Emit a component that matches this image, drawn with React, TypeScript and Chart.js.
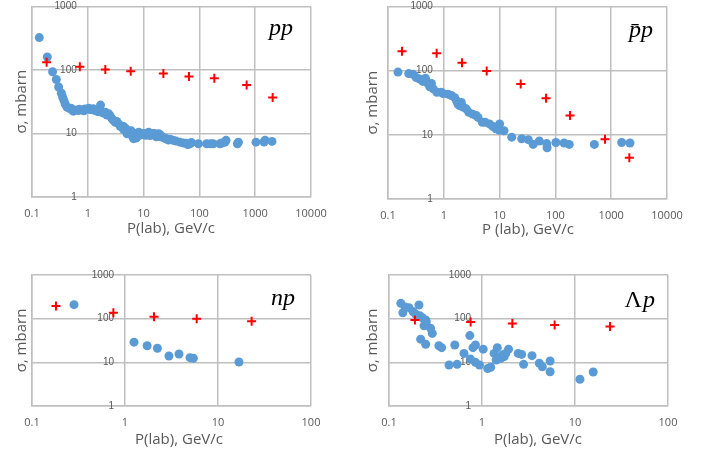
import React, { useEffect, useRef } from "react";
import { Chart, registerables } from "chart.js";

Chart.register(...registerables);

// ---------- data ----------
const xTicksWide = [0.1, 1, 10, 100, 1000, 10000];
const xTickLabelsWide = ["0.1", "1", "10", "100", "1000", "10000"];
const xTicksNarrow = [0.1, 1, 10, 100];
const xTickLabelsNarrow = ["0.1", "1", "10", "100"];
const yTicks = [1, 10, 100, 1000];
const yTickLabels = ["1", "10", "100", "1000"];

// pp
const ppDataP = [
  0.135, 0.188, 0.234, 0.273, 0.3, 0.336, 0.355, 0.374, 0.395, 0.423, 0.466, 0.5, 0.52, 0.55, 0.6, 0.68, 0.7,
  0.79, 0.85, 0.9, 1.04, 1.1, 1.19, 1.25, 1.37, 1.45, 1.57, 1.6, 1.69, 1.8, 1.9, 2.06, 2.2, 2.37, 2.5, 2.72,
  2.9, 3.12, 3.3, 3.58, 3.8, 4.1, 4.3, 4.4, 4.7, 5.05, 5.3, 5.8, 6.0, 6.2, 6.6, 7.1, 7.3, 7.6, 8.2, 8.8, 9.4,
  10, 10.8, 11.5, 12.3, 13, 14.1, 14.9, 15.5, 16.2, 17, 18.6, 19.7, 20, 21.3, 23, 24.5, 26, 28, 30, 34, 38, 45,
  52, 59, 62, 68, 72, 96, 135, 160, 177, 234, 250, 288, 300, 480, 500, 1033, 1440, 1500, 2000,
];
const ppDataSigma = [
  324, 160, 94, 71, 54, 43, 37, 33, 29, 26, 24.9, 25, 23.7, 22.5, 23.5, 23, 24, 23.7, 22.8, 24.3, 24.9, 23.8,
  23.7, 24.5, 23, 22.5, 22, 24, 28, 22, 21, 21.7, 19.5, 20.4, 19, 17, 16, 15, 15.5, 14.2, 13, 12.6, 13, 11.5,
  12.1, 9.9, 11, 10.5, 11, 9.2, 8.3, 9.9, 8.5, 8.8, 10.5, 9.5, 9.9, 10, 9.4, 9.6, 10.5, 9.3, 9.9, 9.9, 10, 9.2,
  8.9, 9.9, 9.0, 9.5, 8.8, 8.6, 8.3, 8.3, 7.9, 8.1, 7.8, 7.6, 7.3, 7.1, 7.05, 6.7, 6.9, 7.2, 6.9, 6.9, 6.9, 6.9,
  6.9, 7.1, 7.3, 7.8, 6.9, 7.3, 7.3, 7.35, 7.8, 7.5,
];
const ppCalcP = [0.183, 0.72, 2.06, 5.87, 22.6, 65, 185, 703, 2056];
const ppCalcSigma = [133, 113, 102, 96, 88, 79, 74, 58, 37];

// anti-p p
const pbarpDataP = [
  0.151, 0.235, 0.28, 0.32, 0.37, 0.42, 0.47, 0.52, 0.56, 0.6, 0.65, 0.75, 0.9, 0.97, 1.19, 1.37, 1.57, 1.69,
  1.8, 1.93, 2.06, 2.22, 2.52, 2.8, 3.3, 3.8, 4.1, 4.9, 5.5, 6.6, 7.6, 8.6, 9.9, 10, 12, 16.5, 24.9, 32.7, 40,
  51.5, 69.8, 71, 102, 143, 177, 499, 1540, 2170,
];
const pbarpDataSigma = [
  95, 90, 88, 78, 74, 68, 76, 63, 56, 63, 52, 46, 46, 44, 43, 41, 38, 34, 30, 28.5, 32, 27, 25.4, 22.4, 21, 20,
  18.7, 15.7, 15.7, 14.8, 13.5, 12.4, 11.8, 14.8, 11.6, 9.2, 8.7, 8.4, 7.1, 8.0, 7.3, 6.3, 7.6, 7.45, 7.1, 7.1,
  7.6, 7.45,
];
const pbarpCalcP = [0.178, 0.745, 2.12, 5.87, 23.9, 68, 183, 774, 2113];
const pbarpCalcSigma = [201, 186, 133, 99, 61.7, 37, 20, 8.5, 4.4];

// n p
const npDataP = [0.283, 1.25, 1.73, 2.23, 2.97, 3.81, 5.0, 5.43, 16.8];
const npDataSigma = [209, 29, 24, 21, 14, 15.5, 12.8, 12.4, 10.2];
const npCalcP = [0.181, 0.75, 2.05, 5.9, 23];
const npCalcSigma = [195, 137, 111, 100, 87];

// Lambda p
const lpDataP = [
  0.134, 0.141, 0.149, 0.164, 0.181, 0.194, 0.21, 0.214, 0.228, 0.248, 0.238, 0.252, 0.28, 0.292, 0.219, 0.248,
  0.344, 0.368, 0.442, 0.51, 0.54, 0.64, 0.74, 0.8, 0.85, 0.75, 0.85, 0.94, 1.03, 1.15, 1.24, 1.35, 1.46, 1.42,
  1.59, 1.65, 1.73, 1.8, 1.93, 2.45, 2.67, 2.8, 3.45, 4.14, 4.45, 5.4, 5.4, 11.3, 15.7,
];
const lpDataSigma = [
  224, 137, 185, 179, 145, 126, 206, 117, 105, 93, 69, 85, 60, 46, 34, 26, 24, 21.7, 8.7, 25, 9.0, 16, 41, 21.7,
  25, 11.9, 10, 8.7, 20, 7.2, 7.7, 16, 21.7, 11.3, 12.3, 14.7, 13.5, 16, 20, 16, 15.2, 9.0, 14.2, 9.5, 7.9, 10.7,
  6.1, 4.1, 6.0,
];
const lpCalcP = [0.19, 0.755, 2.12, 6.04, 23.8];
const lpCalcSigma = [93, 84, 78, 72, 66];

// ---------- styling ----------
const BLUE = "#5b9bd5";
const RED = "#ff0000";
const GRID = "#bfbfbf";
const TEXT = "#595959";
const SANS = "'Open Sans', 'Liberation Sans', sans-serif";
const YSANS = "'Liberation Sans', sans-serif";
const SERIF = "'Liberation Serif', 'DejaVu Serif', serif";

type Spec = {
  left: number;
  top: number;
  width: number;
  height: number;
  area: { l: number; t: number; r: number; b: number };
  xTicks: number[];
  xLabels: string[];
  dataP: number[];
  dataS: number[];
  calcP: number[];
  calcS: number[];
  xTitle: string;
  xTitleX: number;
  xTitleY: number;
  yTitleX: number;
  labelUpright: string;
  labelItalic: string;
  labelRight: number;
  labelBaseline: number;
};

const zip = (xs: number[], ys: number[]) => xs.map((x, i) => ({ x, y: ys[i] }));

const specs: Spec[] = [
  {
    left: 0, top: 0, width: 352, height: 245,
    area: { l: 32, t: 5, r: 311, b: 197 },
    xTicks: xTicksWide, xLabels: xTickLabelsWide,
    dataP: ppDataP, dataS: ppDataSigma, calcP: ppCalcP, calcS: ppCalcSigma,
    xTitle: "P(lab), GeV/c", xTitleX: 171, xTitleY: 229, yTitleX: 22,
    labelUpright: "", labelItalic: "pp", labelRight: 293, labelBaseline: 35,
  },
  {
    left: 352, top: 0, width: 352, height: 245,
    area: { l: 36, t: 5, r: 315, b: 199 },
    xTicks: xTicksWide, xLabels: xTickLabelsWide,
    dataP: pbarpDataP, dataS: pbarpDataSigma, calcP: pbarpCalcP, calcS: pbarpCalcSigma,
    xTitle: "P (lab), GeV/c", xTitleX: 176, xTitleY: 230, yTitleX: 21,
    labelUpright: "", labelItalic: "p\u0304p", labelRight: 301, labelBaseline: 37,
  },
  {
    left: 0, top: 255, width: 352, height: 198,
    area: { l: 32, t: 20, r: 311, b: 151 },
    xTicks: xTicksNarrow, xLabels: xTickLabelsNarrow,
    dataP: npDataP, dataS: npDataSigma, calcP: npCalcP, calcS: npCalcSigma,
    xTitle: "P(lab), GeV/c", xTitleX: 179, xTitleY: 185, yTitleX: 22,
    labelUpright: "", labelItalic: "np", labelRight: 295, labelBaseline: 50,
  },
  {
    left: 352, top: 255, width: 352, height: 198,
    area: { l: 37, t: 20, r: 316, b: 151 },
    xTicks: xTicksNarrow, xLabels: xTickLabelsNarrow,
    dataP: lpDataP, dataS: lpDataSigma, calcP: lpCalcP, calcS: lpCalcSigma,
    xTitle: "P(lab), GeV/c", xTitleX: 186, xTitleY: 185, yTitleX: 21,
    labelUpright: "\u039B", labelItalic: "p", labelRight: 303, labelBaseline: 52,
  },
];

function Panel({ spec }: { spec: Spec }) {
  const ref = useRef<HTMLCanvasElement>(null);
  useEffect(() => {
    const canvas = ref.current;
    if (!canvas) return;
    const s = spec;
    const textPlugin = {
      id: "panelTexts",
      beforeDatasetsDraw(chart: any) {
        const ctx = chart.ctx as CanvasRenderingContext2D;
        const xs = chart.scales.x;
        const ys = chart.scales.y;
        ctx.save();
        ctx.font = `10px ${YSANS}`;
        ctx.fillStyle = TEXT;
        ctx.textAlign = "right";
        ctx.textBaseline = "middle";
        const ax = xs.getPixelForValue(1) - 11;
        yTicks.forEach((v, i) => ctx.fillText(yTickLabels[i], ax, ys.getPixelForValue(v)));
        ctx.restore();
      },
      afterDraw(chart: any) {
        const ctx = chart.ctx as CanvasRenderingContext2D;
        const a = chart.chartArea;
        ctx.save();
        ctx.fillStyle = TEXT;
        ctx.font = `15px ${SANS}`;
        ctx.textAlign = "center";
        ctx.textBaseline = "middle";
        ctx.fillText(s.xTitle, s.xTitleX, s.xTitleY);
        ctx.save();
        ctx.translate(s.yTitleX, (a.top + a.bottom) / 2);
        ctx.rotate(-Math.PI / 2);
        ctx.fillText("\u03C3, mbarn", 0, 0);
        ctx.restore();
        // particle label
        ctx.fillStyle = "#000000";
        ctx.textBaseline = "alphabetic";
        ctx.textAlign = "right";
        ctx.font = `italic 24px ${SERIF}`;
        ctx.fillText(s.labelItalic, s.labelRight, s.labelBaseline);
        if (s.labelUpright) {
          const w = ctx.measureText(s.labelItalic).width;
          ctx.font = `24px ${SERIF}`;
          ctx.fillText(s.labelUpright, s.labelRight - w - 1, s.labelBaseline);
        }
        ctx.restore();
      },
    };
    const chart = new Chart(canvas, {
      type: "scatter",
      data: {
        datasets: [
          {
            label: "calc",
            data: zip(s.calcP, s.calcS),
            pointStyle: "cross",
            pointRadius: 4.5,
            borderColor: RED,
            backgroundColor: RED,
            borderWidth: 2,
            order: 0,
          } as any,
          {
            label: "data",
            data: zip(s.dataP, s.dataS),
            pointStyle: "circle",
            pointRadius: 4.5,
            borderColor: BLUE,
            backgroundColor: BLUE,
            borderWidth: 0,
            order: 1,
          } as any,
        ],
      },
      options: {
        animation: false,
        responsive: false,
        events: [],
        layout: { padding: { left: s.area.l, top: s.area.t, right: s.width - s.area.r, bottom: 0 } },
        plugins: { legend: { display: false }, tooltip: { enabled: false } },
        scales: {
          x: {
            type: "logarithmic",
            min: s.xTicks[0],
            max: s.xTicks[s.xTicks.length - 1],
            afterBuildTicks: (sc: any) => {
              sc.ticks = s.xTicks.map((v) => ({ value: v }));
            },
            afterFit: (sc: any) => {
              sc.height = s.height - s.area.b;
            },
            grid: { color: GRID, lineWidth: 1.5, drawTicks: false },
            border: { color: GRID, width: 1.5 },
            ticks: {
              padding: 10,
              color: TEXT,
              font: { family: SANS, size: 11 },
              maxRotation: 0,
              autoSkip: false,
              callback: (_v: any, i: number) => s.xLabels[i],
            },
          },
          y: {
            type: "logarithmic",
            min: yTicks[0],
            max: yTicks[yTicks.length - 1],
            afterBuildTicks: (sc: any) => {
              sc.ticks = yTicks.map((v) => ({ value: v }));
            },
            afterFit: (sc: any) => {
              sc.width = 0;
            },
            grid: { color: GRID, lineWidth: 1.5, drawTicks: false },
            border: { color: GRID, width: 1.5 },
            ticks: { display: false },
          },
        },
      } as any,
      plugins: [textPlugin],
    });
    return () => chart.destroy();
  }, [spec]);
  return (
    <canvas
      ref={ref}
      width={spec.width}
      height={spec.height}
      style={{ position: "absolute", left: spec.left, top: spec.top, width: spec.width, height: spec.height }}
    />
  );
}

export default function App() {
  return (
    <div style={{ position: "absolute", left: 0, top: 0, width: 704, height: 453, background: "#ffffff" }}>
      {specs.map((sp, i) => (
        <Panel key={i} spec={sp} />
      ))}
    </div>
  );
}
